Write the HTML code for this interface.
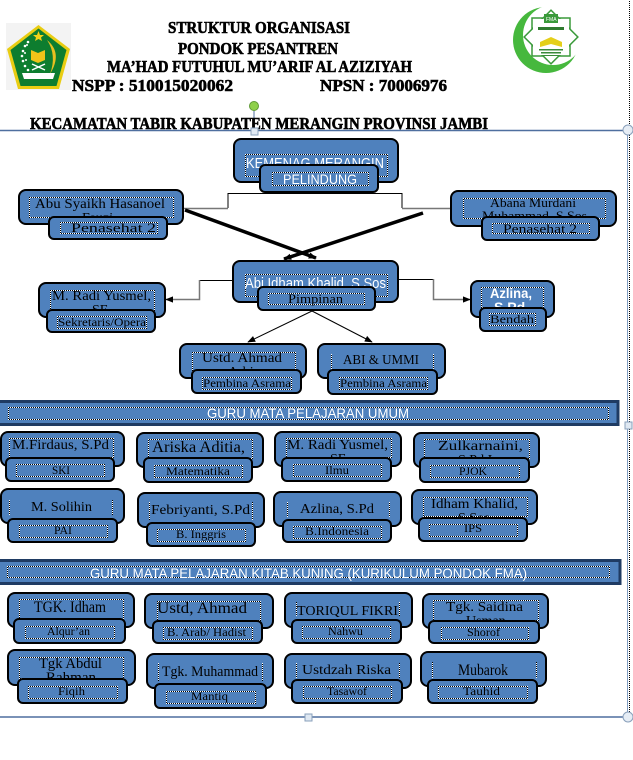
<!DOCTYPE html>
<html><head><meta charset="utf-8"><style>
html,body{margin:0;padding:0;background:#fff;}
svg{display:block;}
.b{fill:#4f81bd;stroke:#000;stroke-width:2;}
.d{fill:none;stroke:url(#chk);stroke-width:1;}
.s{font-family:"Liberation Serif",serif;fill:#000;}
.w{font-family:"Liberation Sans",sans-serif;fill:#fff;}
.h{font-family:"Liberation Serif",serif;font-weight:bold;fill:#000;font-size:17px;stroke:#000;stroke-width:0.6;}
</style></head><body>
<svg width="633" height="760" viewBox="0 0 633 760" xmlns="http://www.w3.org/2000/svg">
<defs>
<pattern id="chk" width="2" height="2" patternUnits="userSpaceOnUse"><rect width="2" height="2" fill="#fff"/><rect width="1" height="1" fill="#000"/><rect x="1" y="1" width="1" height="1" fill="#000"/></pattern>
<marker id="a" viewBox="0 0 10 10" refX="9" refY="5" markerWidth="8" markerHeight="8" markerUnits="userSpaceOnUse" orient="auto"><path d="M0,1 L10,5 L0,9z" fill="#000"/></marker>
</defs>

<!-- frame -->
<line x1="629.5" y1="0" x2="629.5" y2="717" stroke="url(#chk)" stroke-width="1"/>
<line x1="627.5" y1="130" x2="627.5" y2="717" stroke="#7f9cc0" stroke-width="1"/>
<line x1="0" y1="130.5" x2="628" y2="130.5" stroke="#4f6f9f" stroke-width="1.5"/>
<line x1="0" y1="717" x2="628" y2="717" stroke="#4f6f9f" stroke-width="1.5"/>
<line x1="254" y1="110" x2="254" y2="130" stroke="#4f6f9f" stroke-width="1"/>

<!-- left logo -->
<rect x="6" y="23" width="65" height="67" fill="#f3f3f3"/>
<polygon points="38.5,25 70,49 59,89 18,89 7,49" fill="#e9cd12"/>
<polygon points="38.5,28.5 66.5,50 56.5,86 20.5,86 10.5,50" fill="#0d7d2f"/>
<polygon points="38.5,31 40,35 44,35 41,37.5 42,41 38.5,39 35,41 36,37.5 33,35 37,35" fill="#f3d21a"/>
<path d="M47,40 Q63,53 50,74 Q57,55 47,40z" fill="#e8c020"/>
<g fill="#fff"><circle cx="28" cy="42" r="1.3"/><circle cx="25" cy="46" r="1.3"/><circle cx="23" cy="51" r="1.3"/><circle cx="22" cy="56" r="1.3"/><circle cx="23" cy="61" r="1.3"/><circle cx="25" cy="66" r="1.3"/><circle cx="28" cy="70" r="1.3"/><circle cx="27" cy="45" r="1"/><circle cx="25" cy="53" r="1"/><circle cx="26" cy="60" r="1"/></g>
<path d="M31,50 L38,53 L45,50 L45,60 L38,63 L31,60z" fill="#f0c419"/>
<path d="M32,64 L45,70 M45,64 L32,70" stroke="#fff" stroke-width="1.5"/>
<path d="M22,73 L55,73 L53,79 L24,79z" fill="#fff"/>

<!-- right logo -->
<circle cx="546" cy="40" r="33" fill="#46b83d"/>
<circle cx="553" cy="35" r="30" fill="#fff"/>
<rect x="532" y="18" width="38" height="38" fill="#fff" stroke="#3a9a3a" stroke-width="1.5"/>
<rect x="532" y="18" width="38" height="38" fill="#fff" stroke="#3a9a3a" stroke-width="1.5" transform="rotate(45 551 37)"/>
<rect x="533" y="19" width="36" height="36" fill="#fff"/>
<rect x="544" y="14" width="14" height="9" fill="#3a9a3a"/>
<text x="546" y="21" font-family="Liberation Sans, sans-serif" font-size="5" fill="#fff">FMA</text>
<rect x="538" y="27" width="26" height="3" fill="#2f7a2f"/>
<path d="M540,42 L551,37 L562,42 L562,47 L551,44 L540,47z" fill="#e5cf1a"/>
<rect x="539" y="49" width="24" height="1.5" fill="#3a8a3a"/>
<rect x="541" y="52" width="20" height="1.5" fill="#3a8a3a"/>
<rect x="543" y="55" width="16" height="1" fill="#3a8a3a"/>

<!-- header text -->
<text class="h" font-weight="bold" x="168" y="33" textLength="182" lengthAdjust="spacingAndGlyphs">STRUKTUR ORGANISASI</text>
<text class="h" font-weight="bold" x="178" y="54" textLength="160" lengthAdjust="spacingAndGlyphs">PONDOK PESANTREN</text>
<text class="h" font-weight="bold" x="107" y="72" textLength="305" lengthAdjust="spacingAndGlyphs">MA’HAD FUTUHUL MU’ARIF AL AZIZIYAH</text>
<text class="h" font-weight="bold" x="72" y="91" textLength="161" lengthAdjust="spacingAndGlyphs">NSPP : 510015020062</text>
<text class="h" font-weight="bold" x="320" y="91" textLength="127" lengthAdjust="spacingAndGlyphs">NPSN : 70006976</text>
<text class="h" font-weight="bold" x="30" y="129" textLength="458" lengthAdjust="spacingAndGlyphs">KECAMATAN TABIR KABUPATEN MERANGIN PROVINSI JAMBI</text>

<!-- handles -->
<circle cx="254" cy="106" r="4.5" fill="#8ed04a" stroke="#5f9a35" stroke-width="1"/>
<rect x="251" y="128" width="7" height="7" fill="#dfe8f2" stroke="#8aa0bb"/>
<circle cx="628" cy="130" r="5" fill="#e6edf5" stroke="#8aa0bb"/>
<rect x="625" y="422" width="7" height="7" fill="#dfe8f2" stroke="#8aa0bb"/>
<rect x="305" y="714" width="7" height="7" fill="#dfe8f2" stroke="#8aa0bb"/>
<circle cx="628" cy="717" r="5" fill="#e6edf5" stroke="#8aa0bb"/>

<!-- connectors -->
<polyline points="228,208 228,193.5 402,193.5 402,208" fill="none" stroke="#000" stroke-width="1"/>
<line x1="184" y1="208.5" x2="228" y2="208.5" stroke="#777" stroke-width="1.5"/>
<line x1="402" y1="208.5" x2="450" y2="208.5" stroke="#777" stroke-width="1.5"/>
<line x1="185" y1="210" x2="316" y2="258" stroke="#000" stroke-width="3.5" marker-end="url(#a)"/>
<line x1="423" y1="213" x2="284" y2="259" stroke="#000" stroke-width="3.5" marker-end="url(#a)"/>
<line x1="233" y1="280.5" x2="199.5" y2="280.5" stroke="#000" stroke-width="1"/>
<polyline points="199.5,280 199.5,299.5 166,299.5" fill="none" stroke="#777" stroke-width="1.5" marker-end="url(#a)"/>
<line x1="398" y1="279.5" x2="433.5" y2="279.5" stroke="#000" stroke-width="1"/>
<polyline points="433.5,279 433.5,299.5 470,299.5" fill="none" stroke="#777" stroke-width="1.5" marker-end="url(#a)"/>
<line x1="312" y1="311" x2="248" y2="342" stroke="#000" stroke-width="1" marker-end="url(#a)"/>
<line x1="312" y1="311" x2="372" y2="342" stroke="#000" stroke-width="1" marker-end="url(#a)"/>

<!-- KEMENAG -->
<rect class="b" x="234" y="139" width="164" height="43" rx="7"/>
<rect class="d" x="245.5" y="154.5" width="142" height="22"/>
<text class="w" x="246" y="168" font-size="15" textLength="138" lengthAdjust="spacingAndGlyphs">KEMENAG MERANGIN</text>
<rect class="b" x="260" y="165" width="118" height="27" rx="5"/>
<rect class="d" x="272.5" y="172.5" width="96" height="13"/>
<text class="w" x="283" y="184" font-size="14" textLength="74" lengthAdjust="spacingAndGlyphs">PELINDUNG</text>

<!-- Abu -->
<rect class="b" x="19" y="190" width="164" height="34" rx="7"/>
<rect class="d" x="29.5" y="197.5" width="144" height="20"/>
<text class="s" x="35" y="208" font-size="14" textLength="130" lengthAdjust="spacingAndGlyphs">Abu Syaikh Hasanoel</text>
<text class="s" x="82" y="222" font-size="14">Fauzi</text>
<rect class="b" x="49" y="217" width="118" height="22" rx="5"/>
<rect class="d" x="60.5" y="222.5" width="97" height="11"/>
<text class="s" x="71" y="232" font-size="12.5" textLength="85" lengthAdjust="spacingAndGlyphs">Penasehat 2</text>

<!-- Abana -->
<rect class="b" x="451" y="191" width="165" height="35" rx="7"/>
<rect class="d" x="463.5" y="198.5" width="142" height="20"/>
<text class="s" x="490" y="207" font-size="13" textLength="86" lengthAdjust="spacingAndGlyphs">Abana Murdani</text>
<text class="s" x="482" y="220" font-size="13" textLength="105" lengthAdjust="spacingAndGlyphs">Muhammad, S.Sos</text>
<rect class="b" x="482" y="217" width="117" height="23" rx="5"/>
<rect class="d" x="492.5" y="223.5" width="97" height="10"/>
<text class="s" x="503" y="233" font-size="12.5" textLength="74" lengthAdjust="spacingAndGlyphs">Penasehat 2</text>

<!-- Abi Idham -->
<rect class="b" x="233" y="261" width="165" height="41" rx="7"/>
<rect class="d" x="245.5" y="274.5" width="142" height="22"/>
<text class="w" x="245" y="288" font-size="15" textLength="141" lengthAdjust="spacingAndGlyphs">Abi Idham Khalid, S.Sos</text>
<rect class="b" x="258" y="287" width="117" height="23" rx="5"/>
<rect class="d" x="268.5" y="293.5" width="96" height="11"/>
<text class="s" x="288" y="303" font-size="13" textLength="55" lengthAdjust="spacingAndGlyphs">Pimpinan</text>

<!-- M. Radi sekretaris -->
<rect class="b" x="39" y="283" width="126" height="34" rx="7"/>
<rect class="d" x="50.5" y="290.5" width="104" height="20"/>
<text class="s" x="52" y="300" font-size="14" textLength="99" lengthAdjust="spacingAndGlyphs">M. Radi Yusmel,</text>
<text class="s" x="92" y="314" font-size="14">SE</text>
<rect class="b" x="47" y="310" width="108" height="22" rx="5"/>
<rect class="d" x="57.5" y="316.5" width="89" height="12"/>
<text class="s" x="58" y="326" font-size="11.5" textLength="88" lengthAdjust="spacingAndGlyphs">Sekretaris/Opera</text>

<!-- Azlina bendahara -->
<rect class="b" x="471" y="281" width="83" height="36" rx="7"/>
<rect class="d" x="481.5" y="287.5" width="62" height="20"/>
<text class="w" x="490" y="298" font-size="14" font-weight="bold" textLength="42" lengthAdjust="spacingAndGlyphs">Azlina,</text>
<text class="w" x="494" y="312" font-size="14" font-weight="bold">S.Pd</text>
<rect class="b" x="480" y="308" width="66" height="23" rx="5"/>
<rect class="d" x="489.5" y="313.5" width="46" height="12"/>
<text class="s" x="490" y="323" font-size="12" textLength="44" lengthAdjust="spacingAndGlyphs">Bendah</text>

<!-- Ustd Ahmad -->
<rect class="b" x="180" y="344" width="126" height="34" rx="7"/>
<rect class="d" x="192.5" y="352.5" width="103" height="20"/>
<text class="s" x="202" y="362" font-size="14" textLength="80" lengthAdjust="spacingAndGlyphs">Ustd. Ahmad</text>
<text class="s" x="228" y="376" font-size="14">Arbi</text>
<rect class="b" x="192" y="370" width="109" height="23" rx="5"/>
<rect class="d" x="202.5" y="377.5" width="89" height="12"/>
<text class="s" x="203" y="387" font-size="11.5" textLength="88" lengthAdjust="spacingAndGlyphs">Pembina Asrama</text>

<!-- ABI & UMMI -->
<rect class="b" x="318" y="344" width="127" height="34" rx="7"/>
<path class="d" d="M331.5 354 V369 M433.5 354 V369"/>
<text class="s" x="343" y="364" font-size="13.5" textLength="76" lengthAdjust="spacingAndGlyphs">ABI &amp; UMMI</text>
<rect class="b" x="328" y="370" width="109" height="24" rx="5"/>
<rect class="d" x="339.5" y="377.5" width="88" height="12"/>
<text class="s" x="340" y="387" font-size="11.5" textLength="87" lengthAdjust="spacingAndGlyphs">Pembina Asrama</text>

<!-- Banner Umum -->
<rect x="-2" y="401.5" width="620" height="23" fill="#4f81bd" stroke="#1f3b63" stroke-width="3"/>
<rect class="d" x="8.5" y="407.5" width="600" height="12"/>
<text class="w" x="207" y="418" font-size="14" textLength="202" lengthAdjust="spacingAndGlyphs">GURU MATA PELAJARAN UMUM</text>

<!-- Umum row 1 -->
<rect class="b" x="1" y="432" width="123" height="34" rx="7"/>
<rect class="d" x="9.5" y="438.5" width="104" height="19"/>
<text class="s" x="12" y="449" font-size="14" textLength="97" lengthAdjust="spacingAndGlyphs">M.Firdaus, S.Pd</text>
<rect class="b" x="6" y="458" width="108" height="23" rx="5"/>
<rect class="d" x="16.5" y="464.5" width="88" height="12"/>
<text class="s" x="52" y="474" font-size="12" textLength="18" lengthAdjust="spacingAndGlyphs">SKI</text>

<rect class="b" x="137" y="433" width="126" height="34" rx="7"/>
<rect class="d" x="148.5" y="439.5" width="104" height="19"/>
<text class="s" x="152" y="452" font-size="16" textLength="93" lengthAdjust="spacingAndGlyphs">Ariska Aditia,</text>
<rect class="b" x="144" y="458" width="108" height="24" rx="5"/>
<rect class="d" x="154.5" y="465.5" width="88" height="12"/>
<text class="s" x="166" y="475" font-size="12" textLength="64" lengthAdjust="spacingAndGlyphs">Matematika</text>

<rect class="b" x="275" y="432" width="126" height="34" rx="7"/>
<rect class="d" x="286.5" y="438.5" width="105" height="19"/>
<text class="s" x="287" y="449" font-size="14" textLength="101" lengthAdjust="spacingAndGlyphs">M. Radi Yusmel,</text>
<text class="s" x="330" y="463" font-size="14">SE</text>
<rect class="b" x="282" y="458" width="109" height="23" rx="5"/>
<rect class="d" x="293.5" y="464.5" width="88" height="12"/>
<text class="s" x="325" y="474" font-size="12" textLength="24" lengthAdjust="spacingAndGlyphs">Ilmu</text>

<rect class="b" x="414" y="433" width="125" height="34" rx="7"/>
<rect class="d" x="424.5" y="439.5" width="105" height="19"/>
<text class="s" x="438" y="450" font-size="14" textLength="85" lengthAdjust="spacingAndGlyphs">Zulkarnaini,</text>
<text class="s" x="458" y="464" font-size="14">S.Pd.I</text>
<rect class="b" x="420" y="458" width="109" height="24" rx="5"/>
<rect class="d" x="430.5" y="465.5" width="89" height="12"/>
<text class="s" x="459" y="475" font-size="12" textLength="28" lengthAdjust="spacingAndGlyphs">PJOK</text>

<!-- Umum row 2 -->
<rect class="b" x="1" y="489" width="123" height="34" rx="7"/>
<path class="d" d="M9.5 500 V515 M112.5 500 V515"/>
<text class="s" x="31" y="511" font-size="14" textLength="61" lengthAdjust="spacingAndGlyphs">M. Solihin</text>
<rect class="b" x="8" y="519" width="109" height="23" rx="5"/>
<rect class="d" x="19.5" y="525.5" width="88" height="12"/>
<text class="s" x="54" y="534" font-size="12" textLength="18" lengthAdjust="spacingAndGlyphs">PAI</text>

<rect class="b" x="138" y="493" width="126" height="34" rx="7"/>
<path class="d" d="M149.5 502 V520 M252.5 502 V520"/>
<text class="s" x="151" y="514" font-size="14" textLength="99" lengthAdjust="spacingAndGlyphs">Febriyanti, S.Pd</text>
<rect class="b" x="147" y="523" width="108" height="23" rx="5"/>
<rect class="d" x="157.5" y="529.5" width="88" height="12"/>
<text class="s" x="176" y="538" font-size="12" textLength="50" lengthAdjust="spacingAndGlyphs">B. Inggris</text>

<rect class="b" x="274" y="492" width="127" height="34" rx="7"/>
<path class="d" d="M287.5 502 V517 M389.5 502 V517"/>
<text class="s" x="300" y="513" font-size="14" textLength="74" lengthAdjust="spacingAndGlyphs">Azlina, S.Pd</text>
<rect class="b" x="283" y="520" width="108" height="22" rx="5"/>
<rect class="d" x="293.5" y="526.5" width="88" height="12"/>
<text class="s" x="305" y="535" font-size="12" textLength="64" lengthAdjust="spacingAndGlyphs">B.Indonesia</text>

<rect class="b" x="412" y="490" width="125" height="34" rx="7"/>
<rect class="d" x="423.5" y="497.5" width="104" height="19"/>
<text class="s" x="431" y="508" font-size="14" textLength="87" lengthAdjust="spacingAndGlyphs">Idham Khalid,</text>
<text class="s" x="458" y="522" font-size="14">S.Sos</text>
<rect class="b" x="419" y="518" width="108" height="23" rx="5"/>
<rect class="d" x="429.5" y="524.5" width="88" height="12"/>
<text class="s" x="464" y="532" font-size="12" textLength="18" lengthAdjust="spacingAndGlyphs">IPS</text>

<!-- Banner Kitab -->
<rect x="-2" y="560.5" width="622" height="23" fill="#4f81bd" stroke="#1f3b63" stroke-width="3"/>
<rect class="d" x="7.5" y="566.5" width="602" height="11"/>
<text class="w" x="90" y="578" font-size="14" textLength="437" lengthAdjust="spacingAndGlyphs">GURU MATA PELAJARAN KITAB KUNING (KURIKULUM PONDOK FMA)</text>

<!-- Kitab row 1 -->
<rect class="b" x="8" y="593" width="126" height="34" rx="7"/>
<rect class="d" x="19.5" y="599.5" width="104" height="20"/>
<text class="s" x="34" y="612" font-size="16" textLength="72" lengthAdjust="spacingAndGlyphs">TGK. Idham</text>
<rect class="b" x="14" y="619" width="111" height="24" rx="5"/>
<rect class="d" x="25.5" y="626.5" width="89" height="12"/>
<text class="s" x="47" y="635" font-size="12" textLength="43" lengthAdjust="spacingAndGlyphs">Alqur’an</text>

<rect class="b" x="145" y="594" width="128" height="34" rx="7"/>
<rect class="d" x="157.5" y="601.5" width="103" height="19"/>
<text class="s" x="157" y="613" font-size="16" textLength="90" lengthAdjust="spacingAndGlyphs">Ustd, Ahmad</text>
<rect class="b" x="153" y="621" width="109" height="22" rx="5"/>
<rect class="d" x="163.5" y="627.5" width="89" height="12"/>
<text class="s" x="167" y="636" font-size="12" textLength="79" lengthAdjust="spacingAndGlyphs">B. Arab/ Hadist</text>

<rect class="b" x="285" y="593" width="127" height="34" rx="7"/>
<path class="d" d="M296.5 602 V616 M399.5 602 V616"/>
<text class="s" x="297" y="615" font-size="14" textLength="101" lengthAdjust="spacingAndGlyphs">TORIQUL FIKRI</text>
<rect class="b" x="292" y="620" width="109" height="23" rx="5"/>
<rect class="d" x="302.5" y="626.5" width="88" height="12"/>
<text class="s" x="328" y="635" font-size="12" textLength="35" lengthAdjust="spacingAndGlyphs">Nahwu</text>

<rect class="b" x="423" y="594" width="125" height="34" rx="7"/>
<rect class="d" x="433.5" y="600.5" width="105" height="20"/>
<text class="s" x="446" y="611" font-size="14" textLength="77" lengthAdjust="spacingAndGlyphs">Tgk. Saidina</text>
<text class="s" x="466" y="625" font-size="14">Usman</text>
<rect class="b" x="429" y="621" width="110" height="22" rx="5"/>
<rect class="d" x="441.5" y="627.5" width="87" height="12"/>
<text class="s" x="467" y="636" font-size="12" textLength="33" lengthAdjust="spacingAndGlyphs">Shorof</text>

<!-- Kitab row 2 -->
<rect class="b" x="8" y="650" width="127" height="35" rx="7"/>
<rect class="d" x="19.5" y="657.5" width="104" height="21"/>
<text class="s" x="39" y="668" font-size="15" textLength="63" lengthAdjust="spacingAndGlyphs">Tgk Abdul</text>
<text class="s" x="46" y="682" font-size="15">Rahman</text>
<rect class="b" x="18" y="679" width="109" height="24" rx="5"/>
<rect class="d" x="28.5" y="686.5" width="89" height="12"/>
<text class="s" x="58" y="695" font-size="12" textLength="27" lengthAdjust="spacingAndGlyphs">Fiqih</text>

<rect class="b" x="147" y="654" width="126" height="34" rx="7"/>
<path class="d" d="M158.5 663 V681 M262.5 663 V681"/>
<text class="s" x="162" y="676" font-size="15" textLength="96" lengthAdjust="spacingAndGlyphs">Tgk. Muhammad</text>
<rect class="b" x="155" y="684" width="111" height="24" rx="5"/>
<rect class="d" x="166.5" y="691.5" width="89" height="12"/>
<text class="s" x="191" y="700" font-size="12" textLength="37" lengthAdjust="spacingAndGlyphs">Mantiq</text>

<rect class="b" x="285" y="654" width="126" height="34" rx="7"/>
<path class="d" d="M296.5 663 V678 M399.5 663 V678"/>
<text class="s" x="302" y="674" font-size="14" textLength="89" lengthAdjust="spacingAndGlyphs">Ustdzah Riska</text>
<rect class="b" x="292" y="680" width="110" height="23" rx="5"/>
<rect class="d" x="303.5" y="686.5" width="88" height="12"/>
<text class="s" x="327" y="695" font-size="12" textLength="40" lengthAdjust="spacingAndGlyphs">Tasawof</text>

<rect class="b" x="421" y="652" width="125" height="34" rx="7"/>
<path class="d" d="M432.5 662 V678 M536.5 662 V678"/>
<text class="s" x="458" y="675" font-size="16" textLength="50" lengthAdjust="spacingAndGlyphs">Mubarok</text>
<rect class="b" x="428" y="680" width="109" height="23" rx="5"/>
<rect class="d" x="438.5" y="686.5" width="89" height="12"/>
<text class="s" x="463" y="695" font-size="12" textLength="37" lengthAdjust="spacingAndGlyphs">Tauhid</text>
</svg>
</body></html>
